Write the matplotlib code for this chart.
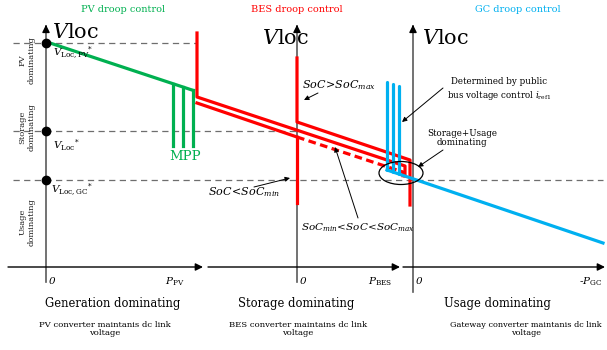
import matplotlib.pyplot as plt
from matplotlib.patches import Ellipse

plt.rcParams['font.family'] = 'DejaVu Serif'
plt.rcParams['mathtext.fontset'] = 'dejavuserif'

# sketch coordinates (pixels of the original figure, y grows downwards)
axis_x = [46, 297, 413]
axis_top = [22, 22, 22]
axis_bottom = [282, 282, 292]
haxis_y = 267
haxis_start = [8, 208, 403]
haxis_end = [203, 400, 605]

# voltage reference levels: V_Loc,PV*, V_Loc*, V_Loc,GC*
v_levels = [43, 131, 180]
v_dash_end = [197, 297, 603]

# PV droop (green)
pv_x = [50, 195]
pv_y = [43, 91]
mpp_x = [173, 183, 193]
mpp_top = [84, 87, 90]
mpp_bottom = 146

# BES droop (red)
bes_max_x = [297, 297, 410, 410]
bes_max_y = [58, 122, 160, 205]
bes_upper_x = [197, 197, 405, 405]
bes_upper_y = [33, 97, 166, 176]
bes_lower_x = [197, 297]
bes_lower_y = [103, 137]
bes_mid_x = [297, 403, 403]
bes_mid_y = [137, 172, 178]
bes_min_x = [297, 297]
bes_min_y = [137, 203]

# GC droop (blue)
gc_x = [387, 603]
gc_y = [170, 243]
gc_vert_x = [387, 393, 399]
gc_vert_top = [82, 84, 86]
gc_vert_bottom = [170, 172, 174]

green = '#00B050'
red = '#FF0000'
blue = '#00B0F0'
grey = '#6e6e6e'

fig = plt.figure(figsize=(6.07, 3.5), dpi=100)
ax = fig.add_axes([0, 0, 1, 1])
ax.set_xlim(0, 607)
ax.set_ylim(350, 0)
ax.axis('off')

# dashed reference levels
for y, xe in zip(v_levels, v_dash_end):
    ax.plot([13, xe], [y, y], ls=(0, (5, 3.5)), color=grey, lw=0.9, zorder=1)

# axes
for x, t, b in zip(axis_x, axis_top, axis_bottom):
    ax.plot([x, x], [t + 6, b], color='#5a5a5a', lw=1.2, zorder=2)
    ax.annotate('', xy=(x, t), xytext=(x, t + 8),
                arrowprops=dict(arrowstyle='-|>', color='k', lw=1, mutation_scale=11))
for xs, xe in zip(haxis_start, haxis_end):
    ax.annotate('', xy=(xe, haxis_y), xytext=(xs, haxis_y),
                arrowprops=dict(arrowstyle='-|>', color='k', lw=1, mutation_scale=11,
                                shrinkA=0, shrinkB=0))

# reference dots
ax.plot([46] * 3, v_levels, 'o', color='k', ms=6, zorder=5)

# PV
ax.plot(pv_x, pv_y, color=green, lw=2.3, solid_capstyle='butt', zorder=3)
for x, t in zip(mpp_x, mpp_top):
    ax.plot([x, x], [t, mpp_bottom], color=green, lw=2.3, zorder=3)
ax.text(185, 157, 'MPP', color=green, fontsize=9.5, ha='center', va='center')

# BES
lw_r = 2.3
ax.plot(bes_max_x, bes_max_y, color=red, lw=lw_r, zorder=3)
ax.plot(bes_upper_x, bes_upper_y, color=red, lw=lw_r, zorder=3)
ax.plot(bes_lower_x, bes_lower_y, color=red, lw=lw_r, zorder=3)
ax.plot(bes_mid_x, bes_mid_y, color=red, lw=lw_r, ls=(0, (2.4, 1.4)), zorder=3)
ax.plot(bes_min_x, bes_min_y, color=red, lw=lw_r, zorder=3)

# GC
ax.plot(gc_x, gc_y, color=blue, lw=2.3, zorder=4)
for x, t, b in zip(gc_vert_x, gc_vert_top, gc_vert_bottom):
    ax.plot([x, x], [t, b], color=blue, lw=2.3, zorder=4, solid_capstyle='round')

ax.add_patch(Ellipse((401, 173), 44, 23, fill=False, ec='k', lw=0.9, zorder=6))

# titles
ax.text(123, 9, 'PV droop control', color=green, fontsize=7, ha='center', va='center')
ax.text(297, 9, 'BES droop control', color=red, fontsize=7, ha='center', va='center')
ax.text(518, 9, 'GC droop control', color=blue, fontsize=7, ha='center', va='center')

# V_loc labels
for x, y in [(52, 33), (262, 39), (422, 39)]:
    ax.text(x, y, r'$V$loc', fontsize=15, ha='left', va='center')

ax.text(53, 53, r'$V_{\mathrm{Loc,PV}}{}^{*}$', fontsize=7.5, ha='left', va='center')
ax.text(53, 146, r'$V_{\mathrm{Loc}}{}^{*}$', fontsize=7.5, ha='left', va='center')
ax.text(51, 190, r'$V_{\mathrm{Loc,GC}}{}^{*}$', fontsize=7.5, ha='left', va='center')

# left side region labels
for y, s in zip([60, 127, 222], ['PV\ndominating', 'Storage\ndominating', 'Usage\ndominating']):
    ax.text(27, y, s, rotation=90, fontsize=6, ha='center', va='center',
            linespacing=1.1, color='#222222')

# annotations
arr = dict(arrowstyle='-|>', color='k', lw=0.7, mutation_scale=7, shrinkA=0, shrinkB=0)
ax.text(302, 85, r'$SoC\!>\!SoC_{max}$', fontsize=8, ha='left', va='center')
ax.annotate('', xy=(304, 100), xytext=(318, 93), arrowprops=arr)
ax.text(208, 192, r'$SoC\!<\!SoC_{min}$', fontsize=8, ha='left', va='center')
ax.annotate('', xy=(290, 178), xytext=(254, 187), arrowprops=arr)
ax.text(301, 228, r'$SoC_{min}\!<\!SoC\!<\!SoC_{max}$', fontsize=7.5, ha='left', va='center')
ax.annotate('', xy=(335, 147), xytext=(358, 218), arrowprops=arr)
ax.text(499, 82, 'Determined by public', fontsize=6.3, ha='center', va='center')
ax.text(499, 95, r'bus voltage control $i_{\mathrm{ref1}}$', fontsize=6.3, ha='center', va='center')
ax.annotate('', xy=(402, 122), xytext=(443, 88), arrowprops=arr)
ax.text(462, 138, 'Storage+Usage\ndominating', fontsize=6.3, ha='center', va='center',
        linespacing=1.1)
ax.annotate('', xy=(418, 167), xytext=(443, 150), arrowprops=arr)

# x axis labels
for x in [49, 300, 416]:
    ax.text(x, 282, '0', fontsize=7.5, style='italic', ha='left', va='center')
ax.text(175, 282, r'$P_{\mathrm{PV}}$', fontsize=7.5, ha='center', va='center')
ax.text(380, 282, r'$P_{\mathrm{BES}}$', fontsize=7.5, ha='center', va='center')
ax.text(591, 282, r'-$P_{\mathrm{GC}}$', fontsize=7.5, ha='center', va='center')

# bottom captions
ax.text(113, 303, 'Generation dominating', fontsize=8.3, ha='center', va='center')
ax.text(296, 303, 'Storage dominating', fontsize=8.3, ha='center', va='center')
ax.text(497, 303, 'Usage dominating', fontsize=8.3, ha='center', va='center')
ax.text(105, 329, 'PV converter maintanis dc link\nvoltage', fontsize=6.1,
        ha='center', va='center', linespacing=1.0)
ax.text(298, 329, 'BES converter maintains dc link\nvoltage', fontsize=6.1,
        ha='center', va='center', linespacing=1.0)
ax.text(526, 329, 'Gateway converter maintanis dc link\nvoltage', fontsize=5.9,
        ha='center', va='center', linespacing=1.0)

fig.savefig('out.png', dpi=100)
